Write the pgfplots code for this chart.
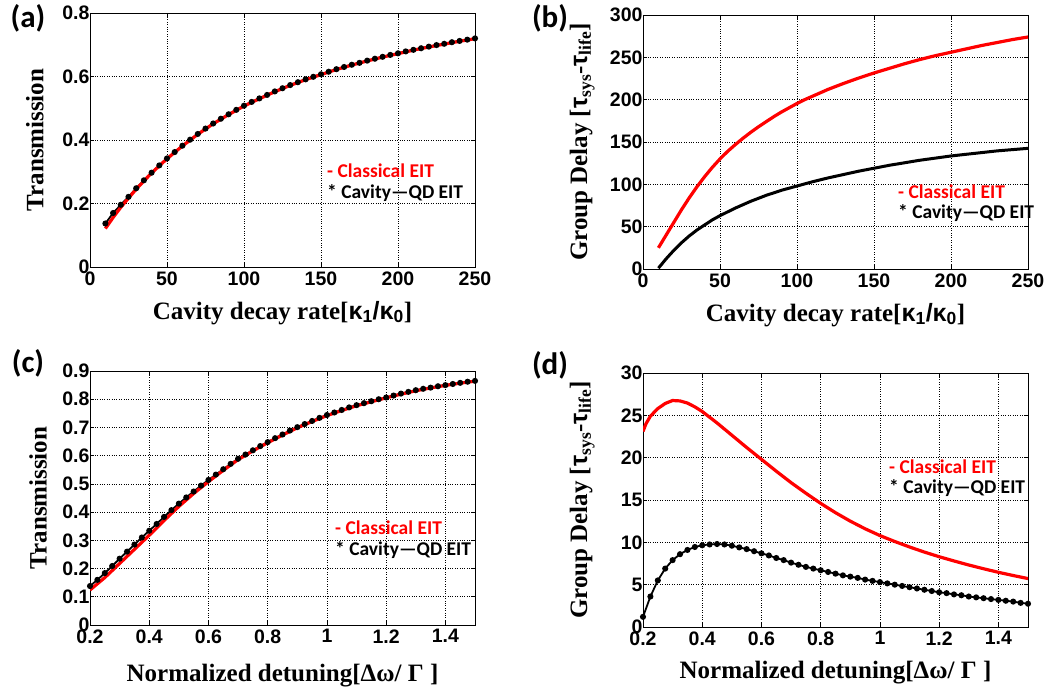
\documentclass[border=0pt]{standalone}
\usepackage{fontspec}
\setmainfont{Liberation Serif}
\setsansfont{Liberation Sans}
\newfontfamily\calib{Carlito}
\usepackage{pgfplots}
\pgfplotsset{compat=1.18}

\pgfplotsset{panel/.style={scale only axis, width=385pt, height=254pt,
  grid=major, major grid style={black, dotted, line width=0.7pt},
  axis line style={black, line width=0.8pt}, tick style={black, line width=0.6pt},
  major tick length=4pt, tick align=inside,
  tick label style={font=\fontsize{19.5}{19.5}\selectfont\sffamily\bfseries},
  /pgf/number format/assume math mode=true,
  label style={font=\fontsize{25}{25}\selectfont\bfseries},
  xlabel style={at={(axis description cs:0.5,-0.18)}, anchor=center},
  ylabel style={at={(axis description cs:-0.143,0.5)}, anchor=center},
  xticklabel style={yshift=-1pt}, yticklabel style={xshift=3pt}}}
\tikzset{leg/.style={anchor=west, inner sep=0pt, font=\fontsize{19.5}{22}\selectfont\calib\bfseries},
  plab/.style={anchor=center, inner sep=0pt, font=\fontsize{31}{31}\selectfont\calib\bfseries}}

\begin{document}
\begin{tikzpicture}[x=1pt, y=1pt]
\path[use as bounding box] (0,0) rectangle (1059,695);

% (a)
\begin{axis}[panel, at={(90pt,428pt)}, anchor=south west,
  xmin=0, xmax=250, ymin=0, ymax=0.8, xtick={0,50,...,250}, ytick={0,0.2,0.4,0.6,0.8},
  xlabel={Cavity decay rate[{\sffamily κ\textsubscript{1}/κ\textsubscript{0}}]}, ylabel={Transmission}]
  \addplot[black, line width=1.8pt, mark=*, mark size=2.1pt] coordinates {
  (10,0.137) (15,0.170) (20,0.196) (25,0.221) (30,0.248) (35,0.273) (40,0.297) (45,0.320)
  (50,0.342) (55,0.362) (60,0.382) (65,0.401) (70,0.419) (75,0.436) (80,0.452) (85,0.467)
  (90,0.481) (95,0.495) (100,0.508) (105,0.520) (110,0.531) (115,0.542) (120,0.553) (125,0.563)
  (130,0.573) (135,0.582) (140,0.591) (145,0.599) (150,0.607) (155,0.615) (160,0.623) (165,0.630)
  (170,0.637) (175,0.643) (180,0.650) (185,0.656) (190,0.662) (195,0.668) (200,0.673) (205,0.679)
  (210,0.684) (215,0.689) (220,0.694) (225,0.699) (230,0.703) (235,0.708) (240,0.712) (245,0.716) (250,0.720)};
  \addplot[red, line width=3.2pt] coordinates {
  (10,0.121) (15,0.156) (20,0.188) (25,0.217) (30,0.245) (35,0.271) (40,0.296) (50,0.341)
  (60,0.381) (70,0.418) (80,0.451) (90,0.480) (100,0.507) (110,0.530) (120,0.552) (130,0.572)
  (140,0.590) (150,0.606) (160,0.622) (170,0.636) (180,0.649) (190,0.661) (200,0.672) (210,0.683)
  (220,0.693) (230,0.702) (240,0.711) (250,0.719)};
\end{axis}

% (b)
\begin{axis}[panel, at={(643pt,426pt)}, anchor=south west,
  xmin=0, xmax=250, ymin=0, ymax=300, xtick={0,50,...,250}, ytick={0,50,...,300},
  ylabel style={at={(axis description cs:-0.158,0.5)}},
  xlabel={Cavity decay rate[{\sffamily κ\textsubscript{1}/κ\textsubscript{0}}]},
  ylabel={Group Delay [{\sffamily τ}\textsubscript{sys}-{\sffamily τ}\textsubscript{life}]}]
  \addplot[red, line width=3.2pt] coordinates {
  (10,25) (15,40) (20,55) (25,70) (30,84) (35,97) (40,109) (45,120) (50,130) (55,139)
  (60,147) (65,154.5) (70,161.5) (75,168) (80,174) (85,180) (90,185.5) (95,190.5) (100,195.5)
  (105,200) (110,204) (115,208) (120,212) (125,215.5) (130,219) (140,225.5) (150,231.5)
  (160,237) (170,242.5) (180,247.5) (190,252) (200,256) (210,260) (220,264) (230,267.5)
  (240,271) (250,274)};
  \addplot[black, line width=3pt] coordinates {
  (10,1) (15,12) (20,22) (25,31) (30,39) (35,46) (40,52) (45,58) (50,63) (60,72) (70,80)
  (80,87) (90,93) (100,98) (110,103) (120,107.5) (130,111.5) (140,115.5) (150,119) (160,122.5)
  (170,125.5) (180,128.5) (190,131) (200,133.5) (210,135.5) (220,137.5) (230,139.5) (240,141) (250,142.5)};
\end{axis}

% (c)
\begin{axis}[panel, at={(90pt,70pt)}, anchor=south west,
  xmin=0.2, xmax=1.5, ymin=0, ymax=0.9, xtick={0.2,0.4,0.6,0.8,1,1.2,1.4},
  ytick={0,0.1,0.2,0.3,0.4,0.5,0.6,0.7,0.8,0.9},
  xlabel style={at={(axis description cs:0.5,-0.2)}},
  ylabel style={at={(axis description cs:-0.135,0.5)}},
  xlabel={Normalized detuning[Δω/ Γ ]}, ylabel={Transmission}]
  \addplot[black, line width=1.8pt, mark=*, mark size=2.1pt] coordinates {
  (0.2,0.138) (0.225,0.160) (0.25,0.184) (0.275,0.209) (0.3,0.235) (0.325,0.260) (0.35,0.285)
  (0.375,0.310) (0.4,0.334) (0.425,0.358) (0.45,0.383) (0.475,0.407) (0.5,0.430) (0.525,0.452)
  (0.55,0.473) (0.575,0.494) (0.6,0.514) (0.625,0.533) (0.65,0.552) (0.675,0.571) (0.7,0.589)
  (0.725,0.604) (0.75,0.619) (0.775,0.634) (0.8,0.648) (0.825,0.662) (0.85,0.675) (0.875,0.689)
  (0.9,0.701) (0.925,0.712) (0.95,0.723) (0.975,0.734) (1.0,0.744) (1.025,0.753) (1.05,0.762)
  (1.075,0.771) (1.1,0.779) (1.125,0.786) (1.15,0.793) (1.175,0.800) (1.2,0.806) (1.225,0.813)
  (1.25,0.820) (1.275,0.826) (1.3,0.832) (1.325,0.837) (1.35,0.841) (1.375,0.846) (1.4,0.850)
  (1.425,0.854) (1.45,0.858) (1.475,0.862) (1.5,0.865)};
  \addplot[red, line width=3.2pt] coordinates {
  (0.2,0.124) (0.25,0.168) (0.3,0.218) (0.35,0.268) (0.4,0.318) (0.45,0.370) (0.5,0.420)
  (0.55,0.466) (0.6,0.508) (0.65,0.548) (0.7,0.586) (0.75,0.617) (0.8,0.646) (0.85,0.673)
  (0.9,0.699) (0.95,0.721) (1.0,0.742) (1.05,0.760) (1.1,0.777) (1.15,0.791) (1.2,0.805)
  (1.25,0.818) (1.3,0.830) (1.35,0.840) (1.4,0.849) (1.45,0.857) (1.5,0.864)};
\end{axis}

% (d)
\begin{axis}[panel, at={(643pt,68pt)}, anchor=south west,
  xmin=0.2, xmax=1.5, ymin=0, ymax=30, xtick={0.2,0.4,0.6,0.8,1,1.2,1.4},
  ytick={0,5,...,30},
  ylabel style={at={(axis description cs:-0.158,0.5)}},
  xlabel={Normalized detuning[Δω/ Γ ]},
  ylabel={Group Delay [{\sffamily τ}\textsubscript{sys}-{\sffamily τ}\textsubscript{life}]}]
  \addplot[red, line width=3.2pt] coordinates {
  (0.2,23.1) (0.21,24.0) (0.225,24.9) (0.25,25.8) (0.275,26.4) (0.3,26.75) (0.325,26.7)
  (0.35,26.45) (0.375,26.0) (0.4,25.45) (0.45,24.1) (0.5,22.65) (0.55,21.2) (0.6,19.8) (0.65,18.4)
  (0.7,17.05) (0.75,15.8) (0.8,14.6) (0.85,13.5) (0.9,12.5) (0.95,11.6) (1.0,10.8) (1.05,10.1)
  (1.1,9.45) (1.15,8.85) (1.2,8.3) (1.25,7.8) (1.3,7.32) (1.35,6.88) (1.4,6.46) (1.45,6.08) (1.5,5.72)};
  \addplot[black, line width=1.8pt, mark=*, mark size=2.1pt] coordinates {
  (0.2,1.2) (0.225,3.6) (0.25,5.5) (0.275,6.9) (0.3,7.9) (0.325,8.6) (0.35,9.1) (0.375,9.45)
  (0.4,9.65) (0.425,9.75) (0.45,9.8) (0.475,9.75) (0.5,9.6) (0.525,9.4) (0.55,9.2) (0.575,8.95)
  (0.6,8.7) (0.625,8.45) (0.65,8.15) (0.675,7.9) (0.7,7.6) (0.725,7.35) (0.75,7.1) (0.775,6.9)
  (0.8,6.7) (0.825,6.5) (0.85,6.3) (0.875,6.1) (0.9,5.95) (0.925,5.8) (0.95,5.6) (0.975,5.45)
  (1.0,5.3) (1.025,5.15) (1.05,5.0) (1.075,4.85) (1.1,4.7) (1.125,4.55) (1.15,4.4) (1.175,4.25)
  (1.2,4.1) (1.225,4.0) (1.25,3.85) (1.275,3.75) (1.3,3.6) (1.325,3.5) (1.35,3.4) (1.375,3.3)
  (1.4,3.2) (1.425,3.1) (1.45,3.0) (1.475,2.85) (1.5,2.75)};
\end{axis}

% panel labels and legend texts
\node[plab] at (28,677) {(a)};
\node[plab] at (550,677) {(b)};
\node[plab] at (28,332) {(c)};
\node[plab] at (550,330) {(d)};
\node[leg, red] at (327,524) {- Classical EIT};
\node[leg] at (327,502) {* Cavity—QD EIT};
\node[leg, red] at (898,503) {- Classical EIT};
\node[leg] at (898,482) {* Cavity—QD EIT};
\node[leg, red] at (335,167) {- Classical EIT};
\node[leg] at (335,145) {* Cavity—QD EIT};
\node[leg, red] at (889,228) {- Classical EIT};
\node[leg] at (889,207) {* Cavity—QD EIT};
\end{tikzpicture}
\end{document}
